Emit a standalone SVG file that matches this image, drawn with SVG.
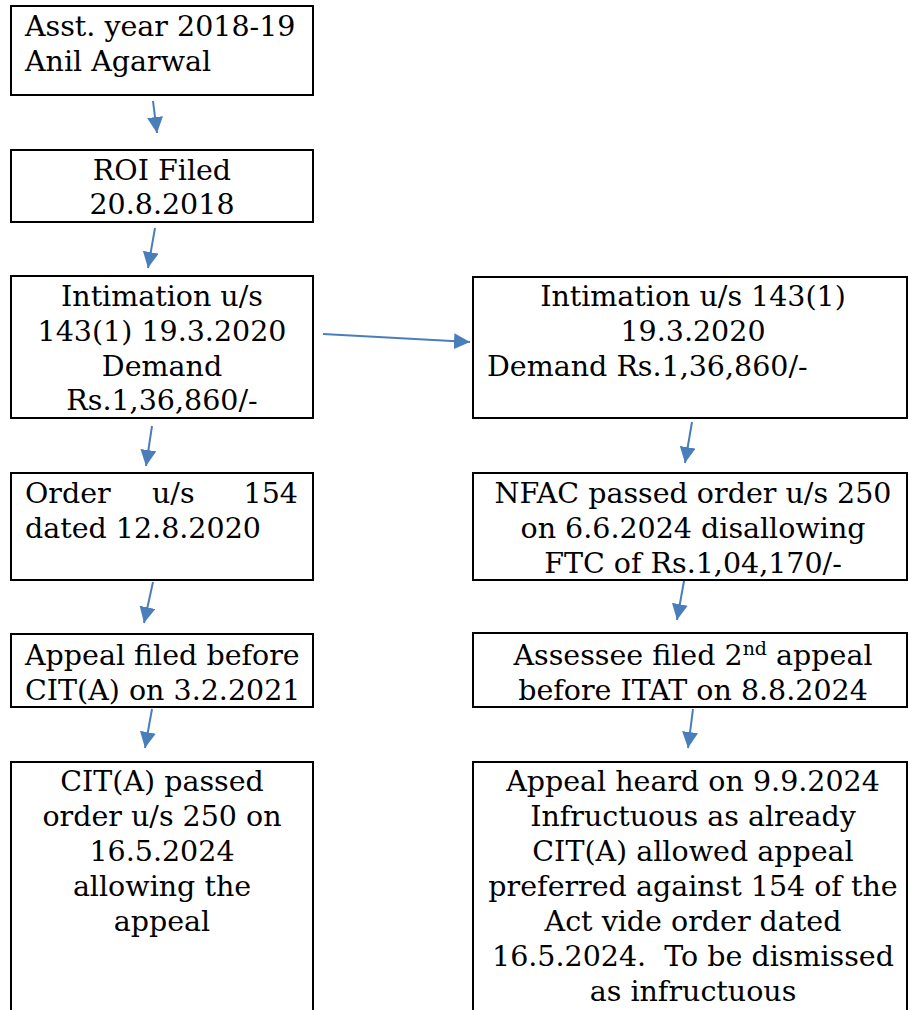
<svg xmlns="http://www.w3.org/2000/svg" width="909" height="1010" viewBox="0 0 909 1010">
<style>
.box{fill:#fff;stroke:#000;stroke-width:2}
.t{font-family:"DejaVu Serif","Liberation Serif",serif;font-size:28.5px;fill:#000}
.c{text-anchor:middle}
.e{text-anchor:end}
.pre{white-space:pre}
.con{stroke:#4a7ebb;stroke-width:2;fill:none;marker-end:url(#ah)}
</style>
<defs>
<marker id="ah" markerUnits="userSpaceOnUse" markerWidth="16" markerHeight="16" refX="15" refY="7.5" orient="auto" viewBox="0 0 15 15"><path d="M0,0 L15,7.5 L0,15 z" fill="#4a7ebb"/></marker>
</defs>
<rect width="909" height="1010" fill="#fff"/>
<g id="n1"><rect class="box" x="11" y="6" width="302" height="89"/>
<text class="t" x="25" y="36">Asst. year 2018-19</text><text class="t" x="25" y="71">Anil Agarwal</text></g>
<g id="n2"><rect class="box" x="11" y="150" width="302" height="72"/>
<text class="t c" x="162" y="180">ROI Filed</text><text class="t c" x="162" y="214">20.8.2018</text></g>
<g id="n3"><rect class="box" x="11" y="276" width="302" height="142"/>
<text class="t c" x="162" y="306">Intimation u/s</text><text class="t c" x="162" y="341">143(1) 19.3.2020</text><text class="t c" x="162" y="376">Demand</text><text class="t c" x="162" y="410">Rs.1,36,860/-</text></g>
<g id="n4"><rect class="box" x="11" y="473" width="302" height="107"/>
<text class="t" x="25" y="503">Order</text><text class="t" x="152" y="503">u/s</text><text class="t e" x="298" y="503">154</text><text class="t" x="25" y="538">dated 12.8.2020</text></g>
<g id="n5"><rect class="box" x="11" y="634" width="302" height="73"/>
<text class="t" x="25" y="665">Appeal filed before</text><text class="t" x="25" y="700">CIT(A) on 3.2.2021</text></g>
<g id="n6"><rect class="box" x="11" y="762" width="302" height="270"/>
<text class="t c" x="162" y="791">CIT(A) passed</text><text class="t c" x="162" y="826">order u/s 250 on</text><text class="t c" x="162" y="861">16.5.2024</text><text class="t c" x="162" y="896">allowing the</text><text class="t c" x="162" y="931">appeal</text></g>
<g id="n7"><rect class="box" x="473" y="277" width="434" height="141"/>
<text class="t c" x="693" y="306">Intimation u/s 143(1)</text><text class="t c" x="693" y="341">19.3.2020</text><text class="t" x="487" y="376">Demand Rs.1,36,860/-</text></g>
<g id="n8"><rect class="box" x="473" y="473" width="434" height="107"/>
<text class="t c" x="693" y="503">NFAC passed order u/s 250</text><text class="t c" x="693" y="538">on 6.6.2024 disallowing</text><text class="t c" x="693" y="573">FTC of Rs.1,04,170/-</text></g>
<g id="n9"><rect class="box" x="473" y="633" width="434" height="74"/>
<text class="t c" x="693" y="665">Assessee filed 2<tspan font-size="19" dy="-10">nd</tspan><tspan dy="10"> appeal</tspan></text><text class="t c" x="693" y="700">before ITAT on 8.8.2024</text></g>
<g id="n10"><rect class="box" x="473" y="762" width="434" height="270"/>
<text class="t c" x="693" y="791">Appeal heard on 9.9.2024</text><text class="t c" x="693" y="826">Infructuous as already</text><text class="t c" x="693" y="861">CIT(A) allowed appeal</text><text class="t c" x="693" y="896">preferred against 154 of the</text><text class="t c" x="693" y="931">Act vide order dated</text><text class="t c pre" x="693" y="966">16.5.2024.  To be dismissed</text><text class="t c" x="693" y="1001">as infructuous</text></g>
<g id="connectors">
<line class="con" x1="153" y1="101" x2="157" y2="133"/>
<line class="con" x1="155" y1="228" x2="148" y2="268"/>
<line class="con" x1="323" y1="334" x2="470" y2="342"/>
<line class="con" x1="152" y1="426" x2="146" y2="466"/>
<line class="con" x1="153" y1="582" x2="144" y2="623"/>
<line class="con" x1="152" y1="709" x2="145" y2="748"/>
<line class="con" x1="692" y1="422" x2="685" y2="463"/>
<line class="con" x1="684" y1="581" x2="677" y2="620"/>
<line class="con" x1="693" y1="709" x2="688" y2="748"/>
</g>
</svg>
